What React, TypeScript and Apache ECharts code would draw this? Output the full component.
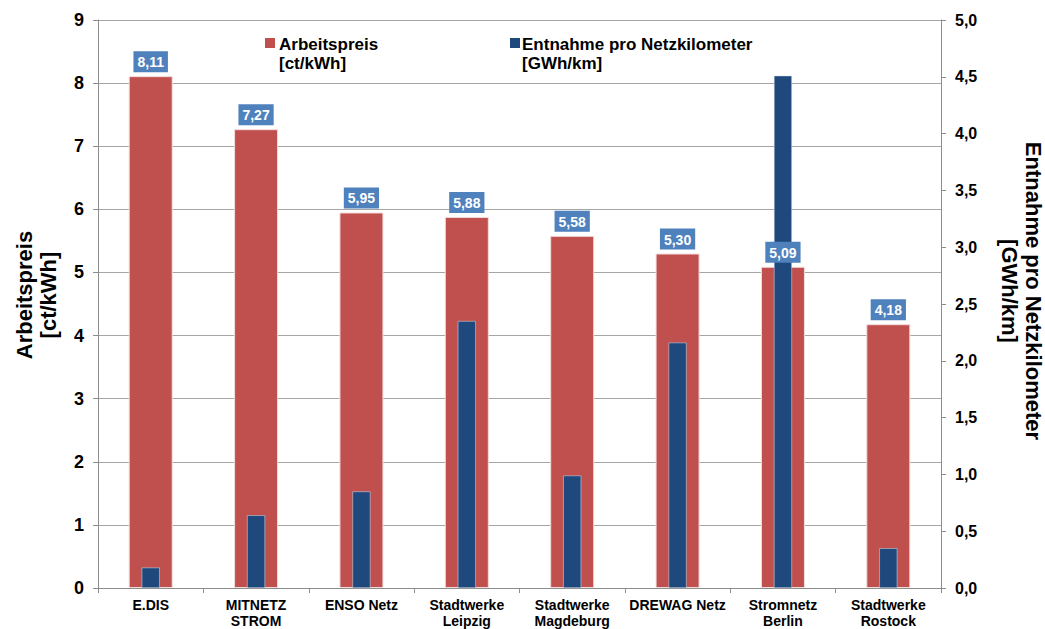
import React, { useEffect, useRef } from "react";
import * as echarts from "echarts";

const categories = [
  "E.DIS",
  "MITNETZ\nSTROM",
  "ENSO Netz",
  "Stadtwerke\nLeipzig",
  "Stadtwerke\nMagdeburg",
  "DREWAG Netz",
  "Stromnetz\nBerlin",
  "Stadtwerke\nRostock",
];
const arbeitspreis = [8.11, 7.27, 5.95, 5.88, 5.58, 5.3, 5.09, 4.18];
const entnahme = [0.18, 0.64, 0.85, 2.35, 0.99, 2.16, 4.51, 0.35];
const leftTicks = { min: 0, max: 9, interval: 1 };
const rightTicks = { min: 0, max: 5, interval: 0.5 };

const FONT = "'Liberation Sans', Arial, sans-serif";
const RED = "#C0504D";
const BLUE = "#1F497D";
const LABEL_BG = "#4F81BD";

export default function App() {
  const ref = useRef<HTMLDivElement>(null);
  useEffect(() => {
    if (!ref.current) return;
    const chart = echarts.init(ref.current, undefined, { renderer: "svg" });
    const hiddenX = {
      type: "category",
      data: categories,
      show: false,
      gridIndex: 0,
    };
    chart.setOption({
      animation: false,
      textStyle: { fontFamily: FONT },
      grid: { left: 98, right: 104, top: 20, bottom: 41 },
      xAxis: [
        {
          type: "category",
          data: categories,
          axisLine: { lineStyle: { color: "#8c8c8c" } },
          axisTick: { show: true, length: 5, lineStyle: { color: "#8c8c8c" } },
          axisLabel: {
            color: "#000",
            fontWeight: "bold",
            fontSize: 14,
            lineHeight: 16,
            margin: 9,
            fontFamily: FONT,
            interval: 0,
          },
        },
        hiddenX,
        { ...hiddenX },
      ],
      yAxis: [
        {
          type: "value",
          ...leftTicks,
          axisLine: { show: true, lineStyle: { color: "#8c8c8c" } },
          axisTick: { show: true, length: 5, lineStyle: { color: "#8c8c8c" } },
          splitLine: { lineStyle: { color: "#a6a6a6", width: 1 } },
          axisLabel: {
            color: "#000",
            fontWeight: "bold",
            fontSize: 18,
            margin: 14,
            fontFamily: FONT,
          },
        },
        {
          type: "value",
          ...rightTicks,
          position: "right",
          axisLine: { show: true, lineStyle: { color: "#8c8c8c" } },
          axisTick: { show: true, length: 5, lineStyle: { color: "#8c8c8c" } },
          splitLine: { show: false },
          axisLabel: {
            color: "#000",
            fontWeight: "bold",
            fontSize: 16,
            margin: 14,
            fontFamily: FONT,
            formatter: (v: number) => v.toFixed(1).replace(".", ","),
          },
        },
      ],
      series: [
        {
          name: "Arbeitspreis [ct/kWh]",
          type: "bar",
          xAxisIndex: 0,
          yAxisIndex: 0,
          data: arbeitspreis,
          barWidth: 44,
          z: 2,
          itemStyle: { color: RED, borderColor: "#f2dcdb", borderWidth: 1 },
        },
        {
          name: "Entnahme pro Netzkilometer [GWh/km]",
          type: "bar",
          xAxisIndex: 1,
          yAxisIndex: 1,
          data: entnahme,
          barWidth: 18,
          z: 3,
          itemStyle: { color: BLUE, borderColor: "#dce6f2", borderWidth: 0.5 },
        },
        {
          name: "labels",
          type: "bar",
          xAxisIndex: 2,
          yAxisIndex: 0,
          data: arbeitspreis,
          barWidth: 44,
          z: 5,
          silent: true,
          itemStyle: { color: "rgba(0,0,0,0)" },
          label: {
            show: true,
            position: "top",
            distance: 4,
            color: "#fff",
            fontWeight: "bold",
            fontSize: 14,
            fontFamily: FONT,
            backgroundColor: LABEL_BG,
            padding: [4, 4, 3, 4],
            formatter: (p: any) => Number(p.value).toFixed(2).replace(".", ","),
          },
        },
      ],
      graphic: [
        { type: "rect", shape: { x: 265, y: 38, width: 10, height: 10 }, style: { fill: RED } },
        {
          type: "text",
          x: 279,
          y: 35,
          style: {
            text: "Arbeitspreis\n[ct/kWh]",
            font: `bold 17px ${FONT}`,
            fill: "#000",
            lineHeight: 19,
            textVerticalAlign: "top",
          },
        },
        { type: "rect", shape: { x: 510, y: 38, width: 10, height: 10 }, style: { fill: BLUE } },
        {
          type: "text",
          x: 522,
          y: 35,
          style: {
            text: "Entnahme pro Netzkilometer\n[GWh/km]",
            font: `bold 17px ${FONT}`,
            fill: "#000",
            lineHeight: 19,
            textVerticalAlign: "top",
          },
        },
        {
          type: "text",
          x: 36,
          y: 295,
          rotation: Math.PI / 2,
          style: {
            text: "Arbeitspreis\n[ct/kWh]",
            font: `bold 22px ${FONT}`,
            fill: "#000",
            lineHeight: 24,
            align: "center",
            verticalAlign: "middle",
          },
        },
        {
          type: "text",
          x: 1021,
          y: 291,
          rotation: -Math.PI / 2,
          style: {
            text: "Entnahme pro Netzkilometer\n[GWh/km]",
            font: `bold 22px ${FONT}`,
            fill: "#000",
            lineHeight: 24,
            align: "center",
            verticalAlign: "middle",
          },
        },
      ],
    });
    return () => chart.dispose();
  }, []);
  return <div ref={ref} style={{ width: 1045, height: 629, position: "absolute", left: 0, top: 0 }} />;
}
